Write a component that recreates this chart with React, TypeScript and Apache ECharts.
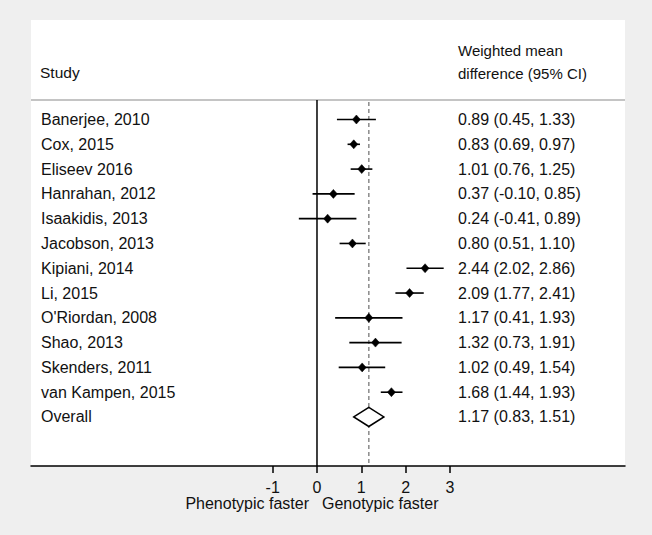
import React, { useEffect, useRef } from "react";
import * as echarts from "echarts";

const studies = [
  "Banerjee, 2010",
  "Cox, 2015",
  "Eliseev 2016",
  "Hanrahan, 2012",
  "Isaakidis, 2013",
  "Jacobson, 2013",
  "Kipiani, 2014",
  "Li, 2015",
  "O'Riordan, 2008",
  "Shao, 2013",
  "Skenders, 2011",
  "van Kampen, 2015",
];
const means = [0.89, 0.83, 1.01, 0.37, 0.24, 0.8, 2.44, 2.09, 1.17, 1.32, 1.02, 1.68];
const lowers = [0.45, 0.69, 0.76, -0.1, -0.41, 0.51, 2.02, 1.77, 0.41, 0.73, 0.49, 1.44];
const uppers = [1.33, 0.97, 1.25, 0.85, 0.89, 1.1, 2.86, 2.41, 1.93, 1.91, 1.54, 1.93];
const overallLabel = "Overall";
const overallMean = 1.17;
const overallLower = 0.83;
const overallUpper = 1.51;
const tickValues = [-1, 0, 1, 2, 3];

const FONT = "'Liberation Sans', Arial, Helvetica, sans-serif";
const FS = 16;
const INK = "#111";

const fmt = (m: number, l: number, h: number) =>
  `${m.toFixed(2)} (${l.toFixed(2)}, ${h.toFixed(2)})`;

export default function App() {
  const ref = useRef<HTMLDivElement>(null);
  useEffect(() => {
    if (!ref.current) return;
    const chart = echarts.init(ref.current, null, { renderer: "svg" });

    const rows = studies.map((s, i) => [i, means[i], lowers[i], uppers[i], 0, s]);
    rows.push([studies.length, overallMean, overallLower, overallUpper, 1, overallLabel]);

    const txt = (text: string, x: number, y: number, align = "left", size = FS) => ({
      type: "text",
      x,
      y,
      style: {
        text,
        fill: INK,
        fontSize: size,
        lineHeight: 14,
        fontFamily: FONT,
        align,
        verticalAlign: "middle",
      },
    });

    const option: any = {
      animation: false,
      backgroundColor: "#efefef",
      grid: { left: 31, right: 27, top: 100, bottom: 69, containLabel: false },
      xAxis: {
        type: "value",
        min: -6.456,
        max: 6.953,
        splitLine: { show: false },
        axisLine: { show: true, onZero: false, lineStyle: { color: "#000", width: 1.5 } },
        axisTick: {
          show: true,
          customValues: tickValues,
          length: 7,
          lineStyle: { color: "#000", width: 1.5 },
        },
        axisLabel: {
          customValues: tickValues,
          color: INK,
          fontSize: FS,
          lineHeight: 14,
          fontFamily: FONT,
          margin: 14,
        },
      },
      yAxis: {
        type: "value",
        inverse: true,
        min: -0.787,
        max: 13.977,
        show: false,
      },
      graphic: [
        {
          type: "rect",
          z: -10,
          shape: { x: 31, y: 20, width: 594, height: 446 },
          style: { fill: "#ffffff" },
        },
        {
          type: "line",
          shape: { x1: 31, y1: 100, x2: 625, y2: 100 },
          style: { stroke: "#c4c4c4", lineWidth: 2 },
        },
        txt("Study", 40, 72, "left", 15.5),
        txt("Weighted mean", 458, 50, "left", 15),
        txt("difference (95% CI)", 458, 73, "left", 15),
        txt("Phenotypic faster", 309, 503, "right"),
        txt("Genotypic faster", 322, 503, "left"),
      ],
      series: [
        {
          type: "custom",
          name: "reference",
          clip: false,
          data: [[0, overallMean]],
          encode: { x: [0, 1] },
          renderItem: (params: any, api: any) => {
            const cs = params.coordSys;
            const x0 = api.coord([api.value(0), 0])[0];
            const xo = api.coord([api.value(1), 0])[0];
            return {
              type: "group",
              children: [
                {
                  type: "line",
                  shape: { x1: x0, y1: cs.y, x2: x0, y2: cs.y + cs.height },
                  style: { stroke: "#000", lineWidth: 1.5 },
                },
                {
                  type: "line",
                  shape: { x1: xo, y1: cs.y + 2, x2: xo, y2: cs.y + cs.height },
                  style: { stroke: "#8a8a8a", lineWidth: 1.5, lineDash: [4, 3] },
                },
              ],
            };
          },
        },
        {
          type: "custom",
          name: "estimates",
          clip: false,
          data: rows,
          encode: { x: [1, 2, 3], y: 0 },
          renderItem: (params: any, api: any) => {
            const i = api.value(0);
            const m = api.value(1);
            const lo = api.value(2);
            const hi = api.value(3);
            const isOverall = api.value(4) === 1;
            const p = api.coord([m, i]);
            const pl = api.coord([lo, i]);
            const ph = api.coord([hi, i]);
            if (isOverall) {
              const h = 9.5;
              return {
                type: "polygon",
                shape: {
                  points: [
                    [pl[0], p[1]],
                    [p[0], p[1] - h],
                    [ph[0], p[1]],
                    [p[0], p[1] + h],
                  ],
                },
                style: { fill: "#fff", stroke: "#000", lineWidth: 1.5 },
              };
            }
            return {
              type: "group",
              children: [
                {
                  type: "line",
                  shape: { x1: pl[0], y1: p[1], x2: ph[0], y2: p[1] },
                  style: { stroke: "#000", lineWidth: 1.6 },
                },
                {
                  type: "polygon",
                  shape: {
                    points: [
                      [p[0], p[1] - 4.5],
                      [p[0] + 4, p[1]],
                      [p[0], p[1] + 4.5],
                      [p[0] - 4, p[1]],
                    ],
                  },
                  style: { fill: "#000", stroke: "#000", lineWidth: 0.5 },
                },
              ],
            };
          },
        },
        {
          type: "custom",
          name: "labels",
          clip: false,
          data: rows,
          encode: { x: 1, y: 0 },
          renderItem: (params: any, api: any) => {
            const cs = params.coordSys;
            const i = api.value(0);
            const y = api.coord([0, i])[1];
            const r = rows[params.dataIndex];
            return {
              type: "group",
              children: [
                {
                  type: "text",
                  x: cs.x + 10,
                  y: y,
                  style: { text: String(r[5]), fill: INK, fontSize: FS, fontFamily: FONT, verticalAlign: "middle" },
                },
                {
                  type: "text",
                  x: cs.x + cs.width - 167,
                  y: y,
                  style: {
                    text: fmt(r[1] as number, r[2] as number, r[3] as number),
                    fill: INK,
                    fontSize: FS,
                    fontFamily: FONT,
                    verticalAlign: "middle",
                  },
                },
              ],
            };
          },
        },
      ],
    };
    chart.setOption(option);
    return () => chart.dispose();
  }, []);
  return (
    <div
      ref={ref}
      style={{ position: "fixed", left: 0, top: 0, width: 652, height: 535 }}
    />
  );
}
